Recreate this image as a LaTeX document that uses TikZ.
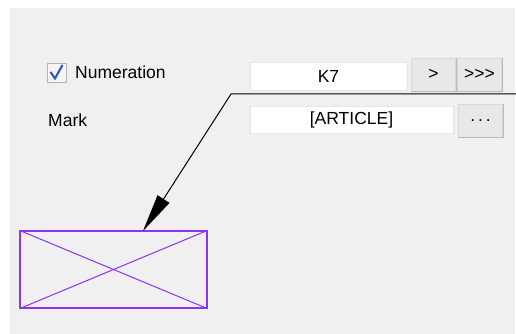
\documentclass[tikz,border=0pt]{standalone}
\usepackage{fontspec}
\setmainfont{Liberation Sans}
\usetikzlibrary{arrows.meta}
\definecolor{latar}{RGB}{240,240,240}
\definecolor{tombol}{RGB}{232,232,232}
\definecolor{ungu}{RGB}{140,50,250}
\definecolor{centang}{RGB}{45,80,200}
\begin{document}
\begin{tikzpicture}[x=1pt,y=-1pt,
    every node/.style={font=\fontsize{17.5}{20}\selectfont, inner sep=0pt},
    isian/.style={draw=gray!20, fill=white, minimum height=28pt},
    tombolan/.style={draw=gray!30, fill=tombol, minimum height=33pt, minimum width=44pt},
    bingkai/.style={draw=ungu, line width=1.4pt, minimum width=187pt, minimum height=77pt}]
    % Latar panel
    \useasboundingbox (0,0) rectangle (516,334);
    \fill[white] (0,0) rectangle (516,334);
    \fill[latar] (10,8) rectangle (515,334);

    % Kotak centang dan label
    \node[draw=gray!60, fill=gray!8, minimum size=19pt] (cek) at (56.5,72.5) {};
    \draw[centang, line width=2pt] (50.5,72) -- (55,78.5) -- (62.5,65);
    \node[anchor=base west] (numerasi) at (75,79) {Numeration};
    \node[anchor=base west] (tanda) at (48,126) {Mark};

    % Isian dan tombol
    \node[isian, minimum width=157pt] (kode) at (328.5,76) {K7};
    \node[tombolan] (satu) at (433.5,74.5) {>};
    \node[tombolan] (semua) at (479.5,74.5) {{>}{>}{>}};
    \node[isian, minimum width=203pt, minimum height=27pt] (artikel) at (351.5,119.5) {[ARTICLE]};
    \node[tombolan] (pilih) at (480.5,120.5) {.\,.\,.};
    \foreach \b in {satu,semua,pilih}
        \draw[gray!55] (\b.north east) -- (\b.south east) -- (\b.south west);

    % Bingkai tujuan
    \node[bingkai] (kotak) at (113.5,269.5) {};
    \draw[ungu, line width=1pt] (kotak.north west) -- (kotak.south east);
    \draw[ungu, line width=1pt] (kotak.south west) -- (kotak.north east);

    % Garis penunjuk
    \coordinate (ujung) at (516,94);
    \coordinate (siku) at (231,94);
    \coordinate (tiba) at (143,231);
    \draw[line width=1pt, -{Triangle[length=38pt,width=14pt]}] (ujung) -- (siku) -- (tiba);
\end{tikzpicture}
\end{document}
